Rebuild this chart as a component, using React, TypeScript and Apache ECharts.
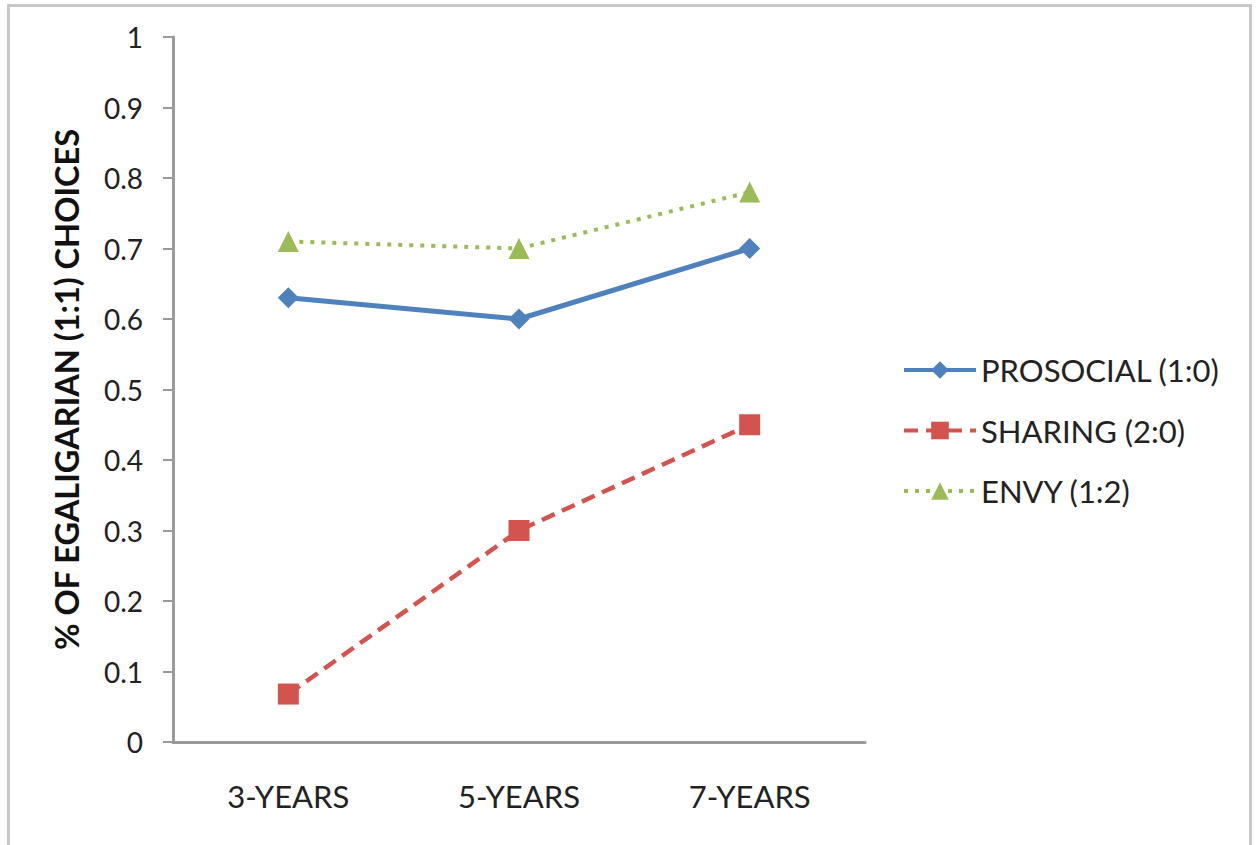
import React, { useEffect, useRef } from "react";
import * as echarts from "echarts";

// Age groups on the x axis
const categories = ["3-YEARS", "5-YEARS", "7-YEARS"];

// Share of egalitarian (1:1) choices per condition
const prosocial = [0.63, 0.6, 0.7];
const sharing = [0.068, 0.3, 0.45];
const envy = [0.71, 0.7, 0.78];

const seriesNames = ["PROSOCIAL (1:0)", "SHARING (2:0)", "ENVY (1:2)"];
const yAxisTitle = "% OF EGALIGARIAN (1:1) CHOICES";

const FONT = "Lato, 'Open Sans', sans-serif";
const AXIS_GRAY = "#9a9a9a";

export default function App() {
  const ref = useRef<HTMLDivElement>(null);

  useEffect(() => {
    if (!ref.current) return;
    const chart = echarts.init(ref.current, null, { renderer: "svg" });
    chart.setOption({
      animation: false,
      backgroundColor: "#ffffff",
      textStyle: { fontFamily: FONT },
      graphic: [
        {
          type: "rect",
          shape: { x: 8.5, y: 5.5, width: 1242, height: 900 },
          style: { fill: "none", stroke: "#c9c9c9", lineWidth: 3 },
          silent: true,
        },
      ],
      grid: { left: 173, right: 393, top: 37, bottom: 103 },
      legend: {
        orient: "vertical",
        left: 902,
        top: 352,
        padding: 0,
        itemWidth: 72,
        itemHeight: 22,
        itemGap: 24.5,
        lineStyle: { width: 4 },
        textStyle: { fontSize: 31, color: "#222", fontFamily: FONT, lineHeight: 36 },
        data: seriesNames,
      },
      xAxis: {
        type: "category",
        data: categories,
        boundaryGap: true,
        axisLine: { lineStyle: { color: AXIS_GRAY, width: 3 } },
        axisTick: { length: 10, lineStyle: { color: AXIS_GRAY, width: 2 } },
        axisLabel: { fontSize: 31, color: "#222", margin: 38, fontFamily: FONT },
      },
      yAxis: {
        type: "value",
        min: 0,
        max: 1,
        interval: 0.1,
        name: yAxisTitle,
        nameLocation: "middle",
        nameRotate: 90,
        nameGap: 90,
        nameTextStyle: { fontSize: 32.5, fontWeight: "bold", color: "#111", fontFamily: FONT },
        splitLine: { show: false },
        axisLine: { show: true, lineStyle: { color: AXIS_GRAY, width: 3 } },
        axisTick: { show: true, length: 10, lineStyle: { color: AXIS_GRAY, width: 2 } },
        axisLabel: { fontSize: 28, color: "#222", margin: 30, fontFamily: FONT },
      },
      series: [
        {
          name: seriesNames[0],
          type: "line",
          data: prosocial,
          symbol: "diamond",
          symbolSize: 21,
          color: "#4F81BD",
          lineStyle: { width: 5, color: "#4F81BD" },
          itemStyle: { color: "#4F81BD" },
        },
        {
          name: seriesNames[1],
          type: "line",
          data: sharing,
          symbol: "rect",
          symbolSize: 21,
          color: "#D3544F",
          lineStyle: { width: 4.5, color: "#D3544F", type: [14, 8] },
          itemStyle: { color: "#D3544F" },
        },
        {
          name: seriesNames[2],
          type: "line",
          data: envy,
          symbol: "triangle",
          symbolSize: 21,
          color: "#9BBB59",
          lineStyle: { width: 4, color: "#9BBB59", type: [4, 7] },
          itemStyle: { color: "#9BBB59" },
        },
      ],
    });
    return () => chart.dispose();
  }, []);

  return (
    <div
      ref={ref}
      style={{ position: "fixed", left: 0, top: 0, width: 1258, height: 845, background: "#fff" }}
    />
  );
}
